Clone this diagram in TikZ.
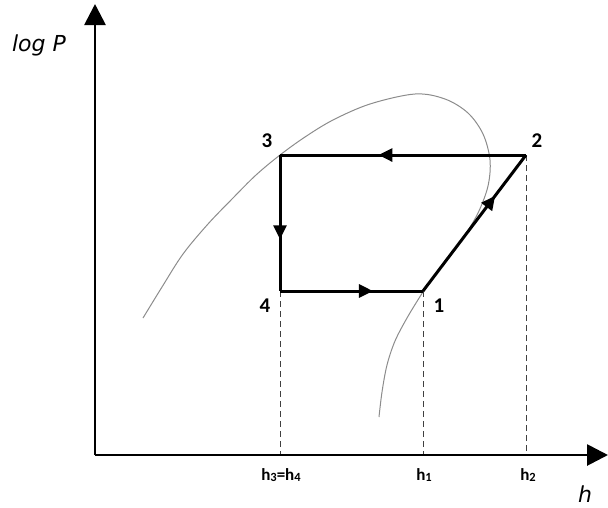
\documentclass[tikz,border=0pt]{standalone}
\usepackage{fontspec}
\newfontfamily\labfont{Carlito}
\newfontfamily\axfont{DejaVu Sans}
\usetikzlibrary{arrows.meta,decorations.markings}
\tikzset{
  axisline/.style={line width=2.8pt,-{Triangle[length=21pt,width=21pt]}},
  cycleline/.style={line width=3pt,line cap=butt},
  midarrow/.style={postaction={decorate,decoration={markings,
     mark=at position #1 with {\arrow{Triangle[length=14pt,width=13pt]}}}}},
  dropline/.style={dash pattern=on 6pt off 4pt,line width=1pt,color=black!75},
  ptlabel/.style={font=\labfont\bfseries\fontsize{21}{21}\selectfont,inner sep=0pt},
  hlabel/.style={font=\labfont\bfseries\fontsize{17}{17}\selectfont,inner sep=0pt},
  axlabel/.style={font=\axfont\itshape\fontsize{22}{22}\selectfont,inner sep=0pt},
  satcurve/.style={color=black!45,line width=1pt}
}
\newcommand{\lowsub}[1]{\raisebox{-0.5pt}{\fontsize{12.5}{12.5}\selectfont #1}}
\begin{document}
\begin{tikzpicture}[x=1pt,y=-1pt]
\useasboundingbox (0,0) rectangle (608,507);
% axes
\coordinate (O) at (95,455);
\coordinate (ytop) at (95,4);
\coordinate (xend) at (608,455);
% cycle points
\coordinate (p1) at (423,291);
\coordinate (p2) at (526,155);
\coordinate (p3) at (280,155);
\coordinate (p4) at (280,291);
\coordinate (f1) at (423,455);
\coordinate (f2) at (526,455);
\coordinate (f4) at (280,455);
% saturation dome
\draw[satcurve] plot[smooth,tension=0.55] coordinates {
 (143,318) (162,287) (183,254) (208,224) (233,198) (256,175) (280,155)
 (305,137) (333,120) (370,104) (415,94) (445,99) (468,113) (483,134)
 (490,160) (488,186) (478,213) (463,238) (445,262) (431,280) (421,295)
 (407,318) (395,341) (387,365) (382,392) (379,417)};
% dashed drop lines
\draw[dropline] (p4) -- (f4);
\draw[dropline] (p1) -- (f1);
\draw[dropline] (p2) -- (f2);
% axes
\draw[axisline] (O) -- (ytop);
\draw[axisline] (O) -- (xend);
% cycle
\draw[cycleline,midarrow=0.6] (p2) -- (p3);
\draw[cycleline,midarrow=0.62] (p3) -- (p4);
\draw[cycleline,midarrow=0.65] (p4) -- (p1);
\draw[cycleline,midarrow=0.7] (p1) -- (p2);
% labels
\node[ptlabel] (l3) at (267,141) {3};
\node[ptlabel] (l2) at (537,141) {2};
\node[ptlabel] (l4) at (265,306) {4};
\node[ptlabel] (l1) at (439,306) {1};
\node[hlabel] (h34) at (281,475) {h\lowsub{3}=h\lowsub{4}};
\node[hlabel] (h1) at (424,475) {h\lowsub{1}};
\node[hlabel] (h2) at (528,475) {h\lowsub{2}};
\node[axlabel] (lp) at (39,45) {log P};
\node[axlabel] (lh) at (585,494) {h};
\end{tikzpicture}
\end{document}
